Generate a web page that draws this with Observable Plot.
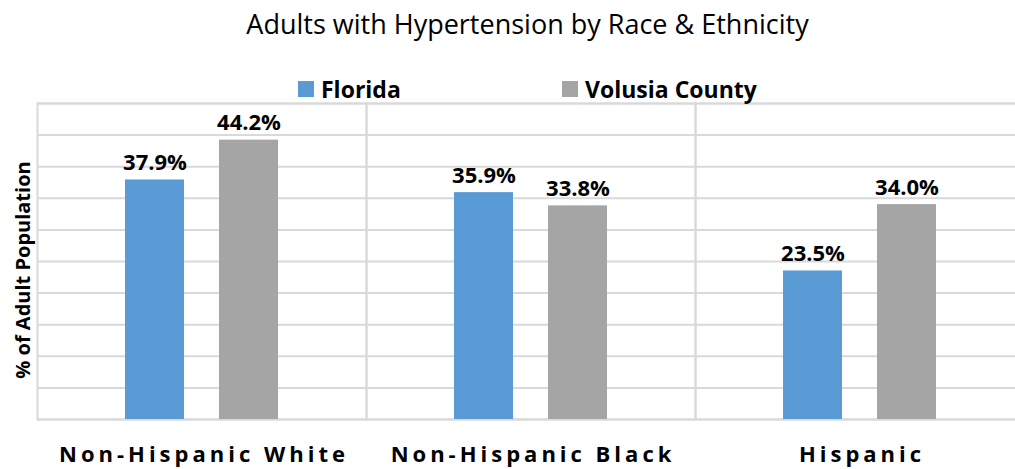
<!DOCTYPE html>
<html>
<head>
<meta charset="utf-8">
<script src="https://cdn.jsdelivr.net/npm/d3@7"></script>
<script src="https://cdn.jsdelivr.net/npm/@observablehq/plot@0.6"></script>
<style>
  html, body { margin: 0; padding: 0; background: #fff; }
  body { width: 1015px; height: 469px; overflow: hidden; position: relative; font-family: "Open Sans", sans-serif; }
  #title { position: absolute; left: 40px; width: 975px; top: 5px; text-align: center; font-size: 27px; color: #000; white-space: nowrap; z-index: 2; }
  #legend { position: absolute; top: 73px; left: 0; width: 1015px; height: 28px; z-index: 2; }
  .lg { position: absolute; top: 0; display: flex; align-items: center; font-weight: bold; font-size: 23px; color: #000; white-space: nowrap; }
  .sw { width: 16px; height: 16px; margin-right: 7px; }
  #ylab { position: absolute; left: 22px; top: 270px; transform: translate(-50%, -50%) rotate(-90deg); font-weight: bold; font-size: 20px; white-space: nowrap; color: #000; z-index: 2; }
  #chart { position: absolute; top: 98px; left: 0; z-index: 1; }
  #chart g[aria-label="fx-axis tick label"] text { letter-spacing: 4px; }
</style>
</head>
<body>
<div id="title"></div>
<div id="legend"></div>
<div id="chart"></div>
<div id="ylab"></div>
<script>
const titleText = "Adults with Hypertension by Race & Ethnicity";
const yLabel = "% of Adult Population";
const categories = ["Non-Hispanic White", "Non-Hispanic Black", "Hispanic"];
const seriesNames = ["Florida", "Volusia County"];
const florida = [37.9, 35.9, 23.5];
const volusia = [44.2, 33.8, 34.0];
const seriesColors = ["#5b9bd5", "#a5a5a5"];
const yTicks = [0, 5, 10, 15, 20, 25, 30, 35, 40, 45, 50];

const data = [];
categories.forEach((c, i) => {
  data.push({category: c, series: seriesNames[0], value: florida[i]});
  data.push({category: c, series: seriesNames[1], value: volusia[i]});
});

document.getElementById("title").textContent = titleText;
document.getElementById("ylab").textContent = yLabel;
const legendPos = [298, 562];
const lg = document.getElementById("legend");
seriesNames.forEach((s, i) => {
  const item = document.createElement("div");
  item.className = "lg";
  item.style.left = legendPos[i] + "px";
  const sw = document.createElement("div");
  sw.className = "sw";
  sw.style.background = seriesColors[i];
  const t = document.createElement("span");
  t.textContent = s;
  item.appendChild(sw);
  item.appendChild(t);
  lg.appendChild(item);
});

const chart = Plot.plot({
  width: 1015,
  height: 371,
  marginTop: 5,
  marginBottom: 50,
  marginLeft: 37,
  marginRight: -9,
  style: {fontFamily: "Open Sans, sans-serif", color: "#000", background: "transparent"},
  fx: {domain: categories, padding: 0, label: null},
  x: {domain: seriesNames, paddingInner: 0.372, paddingOuter: 0.936, axis: null},
  y: {domain: [0, 50], axis: null},
  color: {domain: seriesNames, range: seriesColors},
  marks: [
    Plot.gridY(yTicks, {stroke: "#d9d9d9", strokeOpacity: 1, strokeWidth: 2}),
    Plot.frame({stroke: "#d9d9d9", strokeWidth: 2}),
    Plot.barY(data, {fx: "category", x: "series", y: "value", fill: "series"}),
    Plot.text(data, {fx: "category", x: "series", y: "value", text: d => d.value.toFixed(1) + "%", dy: -17, fontSize: 22, fontWeight: "bold", fill: "#000"}),
    Plot.axisFx({anchor: "bottom", tickSize: 0, tickPadding: 27, dx: 2, fontSize: 22, fontWeight: "bold", label: null, fill: "#000"})
  ]
});
document.getElementById("chart").appendChild(chart);
</script>
</body>
</html>
